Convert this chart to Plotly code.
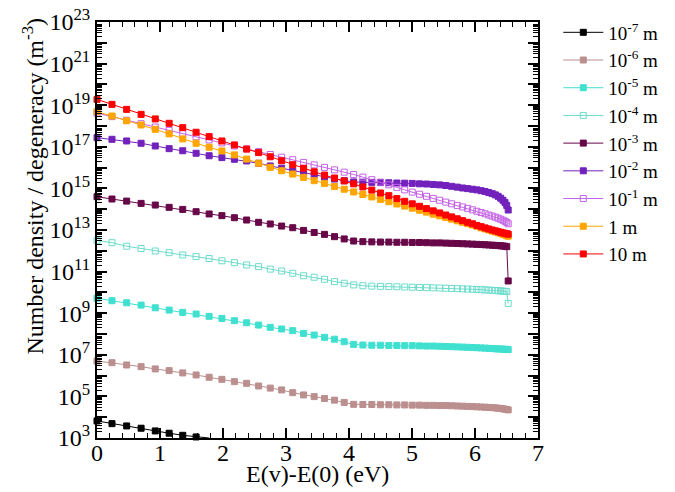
import plotly.graph_objects as go

# Vibrational level energies E(v)-E(0) in eV
energy = [0, 0.238, 0.471, 0.700, 0.925, 1.145, 1.361, 1.573, 1.780, 1.983,
          2.181, 2.375, 2.565, 2.750, 2.931, 3.107, 3.279, 3.447, 3.611, 3.770,
          3.924, 4.074, 4.220, 4.362, 4.499, 4.632, 4.760, 4.884, 5.004, 5.119,
          5.230, 5.336, 5.438, 5.536, 5.629, 5.718, 5.803, 5.883, 5.959, 6.030,
          6.097, 6.160, 6.218, 6.272, 6.322, 6.367, 6.408, 6.444, 6.476, 6.504,
          6.527]

# log10 of number density / degeneracy (m^-3) for each case
log_1e_7 = [3.82, 3.69, 3.58, 3.47, 3.34, 3.23, 3.13, 3.05, 3.00]
log_1e_6 = [6.70, 6.62, 6.51, 6.43, 6.32, 6.24, 6.13, 6.03, 5.92, 5.82, 5.71, 5.63, 5.50, 5.40, 5.31,
            5.18, 5.07, 4.99, 4.90, 4.82, 4.71, 4.62, 4.61, 4.61, 4.60, 4.60, 4.59, 4.59, 4.58, 4.58,
            4.57, 4.57, 4.56, 4.56, 4.55, 4.54, 4.53, 4.52, 4.51, 4.50, 4.49, 4.48, 4.47, 4.46, 4.45,
            4.43, 4.42, 4.40, 4.39, 4.37, 4.35]
log_1e_5 = [9.72, 9.60, 9.50, 9.39, 9.26, 9.15, 9.04, 8.96, 8.85, 8.75, 8.64, 8.54, 8.43, 8.32, 8.24,
            8.16, 8.03, 7.95, 7.84, 7.75, 7.63, 7.50, 7.47, 7.46, 7.46, 7.45, 7.45, 7.44, 7.44, 7.43,
            7.42, 7.42, 7.41, 7.40, 7.39, 7.38, 7.37, 7.36, 7.35, 7.34, 7.33, 7.32, 7.31, 7.30, 7.29,
            7.28, 7.28, 7.27, 7.26, 7.26, 7.25]
log_1e_4 = [12.50, 12.39, 12.22, 12.11, 11.99, 11.91, 11.80, 11.72, 11.63, 11.52, 11.43, 11.32, 11.24,
            11.12, 11.03, 10.92, 10.80, 10.73, 10.63, 10.52, 10.44, 10.36, 10.32, 10.30, 10.29, 10.28,
            10.27, 10.26, 10.25, 10.24, 10.23, 10.22, 10.21, 10.20, 10.19, 10.18, 10.17, 10.16, 10.15,
            10.14, 10.13, 10.12, 10.11, 10.10, 10.09, 10.08, 10.07, 10.06, 10.05, 10.04, 9.47]
log_1e_3 = [14.60, 14.49, 14.39, 14.28, 14.20, 14.09, 13.99, 13.88, 13.77, 13.69, 13.59, 13.48, 13.37,
            13.29, 13.19, 13.11, 12.98, 12.88, 12.79, 12.68, 12.57, 12.47, 12.44, 12.43, 12.42, 12.42,
            12.41, 12.41, 12.40, 12.40, 12.39, 12.38, 12.38, 12.37, 12.36, 12.35, 12.34, 12.33, 12.32,
            12.31, 12.30, 12.29, 12.28, 12.27, 12.26, 12.25, 12.24, 12.23, 12.22, 12.20, 10.55]
log_1e_2 = [17.44, 17.36, 17.28, 17.17, 17.04, 16.91, 16.81, 16.69, 16.57, 16.48, 16.40, 16.32, 16.21,
            16.08, 15.97, 15.85, 15.73, 15.64, 15.53, 15.45, 15.37, 15.31, 15.30, 15.29, 15.28, 15.27,
            15.26, 15.25, 15.24, 15.22, 15.21, 15.19, 15.17, 15.14, 15.10, 15.06, 15.02, 14.99, 14.96,
            14.93, 14.89, 14.85, 14.80, 14.75, 14.69, 14.62, 14.53, 14.43, 14.32, 14.18, 13.96]
log_1e_1 = [18.62, 18.45, 18.28, 18.11, 17.95, 17.79, 17.64, 17.48, 17.33, 17.19, 17.04, 16.90, 16.77,
            16.63, 16.50, 16.38, 16.25, 16.13, 16.01, 15.89, 15.78, 15.67, 15.54, 15.42, 15.30, 15.17,
            15.05, 14.93, 14.82, 14.72, 14.62, 14.52, 14.43, 14.34, 14.26, 14.18, 14.11, 14.04, 13.97,
            13.90, 13.84, 13.78, 13.72, 13.67, 13.62, 13.57, 13.52, 13.47, 13.42, 13.37, 13.30]
log_1m = [18.69, 18.48, 18.25, 18.05, 17.84, 17.62, 17.38, 17.17, 16.98, 16.80, 16.61, 16.41, 16.21,
          16.01, 15.85, 15.69, 15.53, 15.37, 15.24, 15.09, 14.96, 14.83, 14.71, 14.59, 14.47, 14.36,
          14.25, 14.15, 14.05, 13.95, 13.86, 13.76, 13.68, 13.60, 13.52, 13.44, 13.37, 13.30, 13.24,
          13.18, 13.10, 13.05, 13.00, 12.95, 12.91, 12.87, 12.83, 12.79, 12.76, 12.73, 12.70]
log_10m = [19.28, 19.04, 18.80, 18.56, 18.34, 18.13, 17.92, 17.70, 17.49, 17.28, 17.09, 16.89, 16.72,
           16.52, 16.33, 16.14, 15.97, 15.80, 15.64, 15.50, 15.36, 15.22, 15.07, 14.92, 14.78, 14.65,
           14.51, 14.38, 14.26, 14.14, 14.03, 13.92, 13.82, 13.72, 13.63, 13.54, 13.45, 13.37, 13.30,
           13.22, 13.16, 13.10, 13.05, 13.00, 12.96, 12.92, 12.89, 12.86, 12.84, 12.82, 12.80]

series_names = ["10<sup>-7</sup> m", "10<sup>-6</sup> m", "10<sup>-5</sup> m", "10<sup>-4</sup> m",
                "10<sup>-3</sup> m", "10<sup>-2</sup> m", "10<sup>-1</sup> m", "1 m", "10 m"]
series_logs = [log_1e_7, log_1e_6, log_1e_5, log_1e_4, log_1e_3, log_1e_2, log_1e_1, log_1m, log_10m]
colors = ["#000000", "#bc8f8f", "#40e0d0", "#6cdccc", "#670748", "#7221bc", "#c462e6", "#ffa500", "#ff0000"]
symbols = ["square", "square", "square", "square-open", "square", "square", "square-open", "square", "square"]

y_exponents = list(range(3, 24))
y_tick_vals = [10.0 ** k for k in y_exponents]
y_tick_text = [("10<sup>%d</sup>" % k) if k % 2 == 1 else "" for k in y_exponents]

x_title = "E(v)-E(0) (eV)"
y_title = "Number density / degeneracy (m<sup>-3</sup>)"

SERIF = "Liberation Serif, DejaVu Serif, serif"

fig = go.Figure()
for name, logs, col, sym in zip(series_names, series_logs, colors, symbols):
    fig.add_trace(go.Scatter(
        x=energy[:len(logs)], y=[10.0 ** v for v in logs], name=name,
        mode="lines+markers",
        line=dict(color=col, width=1),
        marker=dict(symbol=sym, size=6, color=col, line=dict(color=col, width=1)),
        cliponaxis=False,
    ))

axis_common = dict(showline=True, linecolor="black", linewidth=2, mirror="allticks",
                   ticks="inside", tickcolor="black", tickwidth=1.5, ticklen=10,
                   showgrid=False, zeroline=False, automargin=False)

fig.update_layout(
    width=675, height=492,
    margin=dict(l=97, r=127, t=22, b=54),
    paper_bgcolor="white", plot_bgcolor="white",
    font=dict(family=SERIF, size=24, color="black"),
    xaxis=dict(range=[0, 7], dtick=1, tick0=0,
               minor=dict(ticks="inside", dtick=0.2, ticklen=5, tickcolor="black", tickwidth=1),
               tickfont=dict(family=SERIF, size=24), ticklabelstandoff=-8, **axis_common),
    yaxis=dict(type="log", range=[3, 23], tickmode="array", tickvals=y_tick_vals, ticktext=y_tick_text,
               minor=dict(ticks="inside", dtick="D1", ticklen=5, tickcolor="black", tickwidth=1),
               tickfont=dict(family=SERIF, size=24), **axis_common),
    legend=dict(x=1.046, y=0.708, xanchor="left", yanchor="middle", font=dict(family=SERIF, size=19),
                bgcolor="rgba(0,0,0,0)", tracegroupgap=0, itemwidth=40),
    annotations=[
        dict(text=x_title, xref="paper", yref="paper", x=0.501, y=-0.087,
             xanchor="center", yanchor="middle", showarrow=False,
             font=dict(family=SERIF, size=24, color="black")),
        dict(text=y_title, xref="paper", yref="paper", x=-0.146, y=0.606, textangle=-90,
             xanchor="center", yanchor="middle", showarrow=False,
             font=dict(family=SERIF, size=24, color="black")),
    ],
)

fig.write_html("out.html", config={"displayModeBar": False},
               post_script="document.body.style.margin='0';")
